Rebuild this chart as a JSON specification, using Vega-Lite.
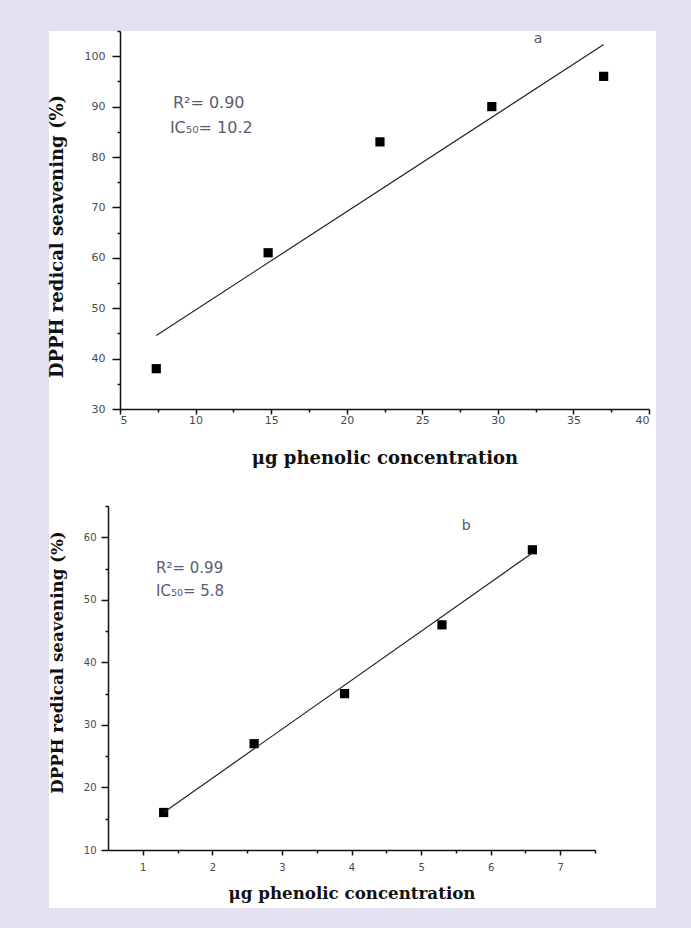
{
  "$schema": "https://vega.github.io/schema/vega-lite/v6.json",
  "background": "#e3e1ef",
  "padding": {"left": 48, "top": 30, "right": 36, "bottom": 21},
  "spacing": 0,
  "config": {
    "view": {"fill": "white", "stroke": null},
    "axis": {
      "grid": false,
      "domainColor": "#111",
      "domainWidth": 1.5,
      "tickColor": "#111",
      "tickWidth": 1.5,
      "labelFont": "DejaVu Sans",
      "labelFontSize": 10,
      "labelColor": "#4a4a4a",
      "titleFont": "DejaVu Serif",
      "titleFontSize": 18,
      "titleFontWeight": "bold",
      "titleColor": "#111"
    }
  },
  "datasets": {
    "a_pts": [
      {"x": 7.4, "y": 38},
      {"x": 14.8, "y": 61},
      {"x": 22.2, "y": 83},
      {"x": 29.6, "y": 90},
      {"x": 37.0, "y": 96}
    ],
    "a_fit": [
      {"x": 7.4, "y": 44.6},
      {"x": 37.0, "y": 102.3}
    ],
    "b_pts": [
      {"x": 1.3, "y": 16},
      {"x": 2.6, "y": 27},
      {"x": 3.9, "y": 35},
      {"x": 5.3, "y": 46},
      {"x": 6.6, "y": 58}
    ],
    "b_fit": [
      {"x": 1.3, "y": 16},
      {"x": 6.6, "y": 57.5}
    ]
  },
  "vconcat": [
    {
      "width": 607,
      "height": 440,
      "layer": [
        {
          "data": {"name": "a_pts"},
          "mark": {"type": "point", "shape": "square", "filled": true, "color": "#000", "size": 85, "opacity": 1},
          "encoding": {
            "x": {
              "field": "x", "type": "quantitative",
              "scale": {"domain": [5, 40], "range": [71, 600], "nice": false, "zero": false},
              "axis": {"orient": "bottom", "offset": -62, "values": [5, 10, 15, 20, 25, 30, 35, 40], "tickSize": 5, "labelPadding": 0, "labelFontSize": 11, "title": "μg phenolic concentration", "titlePadding": 24}
            },
            "y": {
              "field": "y", "type": "quantitative",
              "scale": {"domain": [30, 105], "range": [378, 0], "nice": false, "zero": false},
              "axis": {"orient": "left", "offset": -71, "values": [30, 40, 50, 60, 70, 80, 90, 100], "tickSize": 8, "labelPadding": 7, "labelFontSize": 11, "title": "DPPH redical seavening (%)", "titlePadding": 18, "titleY": 205}
            }
          }
        },
        {
          "data": {"name": "a_fit"},
          "mark": {"type": "line", "color": "#222", "strokeWidth": 1.2},
          "encoding": {
            "x": {
              "field": "x", "type": "quantitative",
              "axis": {"orient": "bottom", "offset": -62, "values": [7.5, 12.5, 17.5, 22.5, 27.5, 32.5, 37.5], "tickSize": 3, "labels": false, "domain": false, "title": null}
            },
            "y": {
              "field": "y", "type": "quantitative",
              "axis": {"orient": "left", "offset": -71, "values": [35, 45, 55, 65, 75, 85, 95, 105], "tickSize": 3, "labels": false, "domain": false, "title": null}
            }
          }
        },
        {
          "data": {"values": [{}]},
          "mark": {"type": "text", "align": "left", "baseline": "middle", "font": "DejaVu Sans", "fontSize": 16, "color": "#5b5b70"},
          "encoding": {
            "x": {"datum": 8.5, "type": "quantitative", "axis": null},
            "y": {"datum": 90.7, "type": "quantitative", "axis": null},
            "text": {"value": "R²= 0.90"}
          }
        },
        {
          "data": {"values": [{}]},
          "mark": {"type": "text", "align": "left", "baseline": "middle", "font": "DejaVu Sans", "fontSize": 16, "color": "#5b5b70"},
          "encoding": {
            "x": {"datum": 8.3, "type": "quantitative", "axis": null},
            "y": {"datum": 85.75, "type": "quantitative", "axis": null},
            "text": {"value": "IC₅₀= 10.2"}
          }
        },
        {
          "data": {"values": [{}]},
          "mark": {"type": "text", "align": "center", "baseline": "middle", "font": "DejaVu Sans", "fontSize": 14, "color": "#55556a"},
          "encoding": {
            "x": {"datum": 32.66, "type": "quantitative", "axis": null},
            "y": {"datum": 103.4, "type": "quantitative", "axis": null},
            "text": {"value": "a"}
          }
        }
      ],
      "resolve": {"axis": {"x": "independent", "y": "independent"}}
    },
    {
      "width": 607,
      "height": 437,
      "layer": [
        {
          "data": {"name": "b_pts"},
          "mark": {"type": "point", "shape": "square", "filled": true, "color": "#000", "size": 85, "opacity": 1},
          "encoding": {
            "x": {
              "field": "x", "type": "quantitative",
              "scale": {"domain": [0.5, 7.5], "range": [59, 546], "nice": false, "zero": false},
              "axis": {"orient": "bottom", "offset": -58, "values": [1, 2, 3, 4, 5, 6, 7], "tickSize": 5, "labelPadding": 7, "title": "μg phenolic concentration", "titleFontSize": 16.7, "titlePadding": 13}
            },
            "y": {
              "field": "y", "type": "quantitative",
              "scale": {"domain": [10, 65], "range": [379, 35], "nice": false, "zero": false},
              "axis": {"orient": "left", "offset": -59, "values": [10, 20, 30, 40, 50, 60], "tickSize": 7, "labelPadding": 5, "title": "DPPH redical seavening (%)", "titleFontSize": 16.7, "titlePadding": 17, "titleY": 191}
            }
          }
        },
        {
          "data": {"name": "b_fit"},
          "mark": {"type": "line", "color": "#222", "strokeWidth": 1.2},
          "encoding": {
            "x": {
              "field": "x", "type": "quantitative",
              "axis": {"orient": "bottom", "offset": -58, "values": [1.5, 2.5, 3.5, 4.5, 5.5, 6.5, 7.5], "tickSize": 3, "labels": false, "domain": false, "title": null}
            },
            "y": {
              "field": "y", "type": "quantitative",
              "axis": {"orient": "left", "offset": -59, "values": [15, 25, 35, 45, 55, 65], "tickSize": 3, "labels": false, "domain": false, "title": null}
            }
          }
        },
        {
          "data": {"values": [{}]},
          "mark": {"type": "text", "align": "left", "baseline": "middle", "font": "DejaVu Sans", "fontSize": 15, "color": "#5b5b70"},
          "encoding": {
            "x": {"datum": 1.19, "type": "quantitative", "axis": null},
            "y": {"datum": 55.1, "type": "quantitative", "axis": null},
            "text": {"value": "R²= 0.99"}
          }
        },
        {
          "data": {"values": [{}]},
          "mark": {"type": "text", "align": "left", "baseline": "middle", "font": "DejaVu Sans", "fontSize": 15, "color": "#5b5b70"},
          "encoding": {
            "x": {"datum": 1.19, "type": "quantitative", "axis": null},
            "y": {"datum": 51.4, "type": "quantitative", "axis": null},
            "text": {"value": "IC₅₀= 5.8"}
          }
        },
        {
          "data": {"values": [{}]},
          "mark": {"type": "text", "align": "center", "baseline": "middle", "font": "DejaVu Sans", "fontSize": 14, "color": "#55556a"},
          "encoding": {
            "x": {"datum": 5.65, "type": "quantitative", "axis": null},
            "y": {"datum": 61.8, "type": "quantitative", "axis": null},
            "text": {"value": "b"}
          }
        }
      ],
      "resolve": {"axis": {"x": "independent", "y": "independent"}}
    }
  ]
}
